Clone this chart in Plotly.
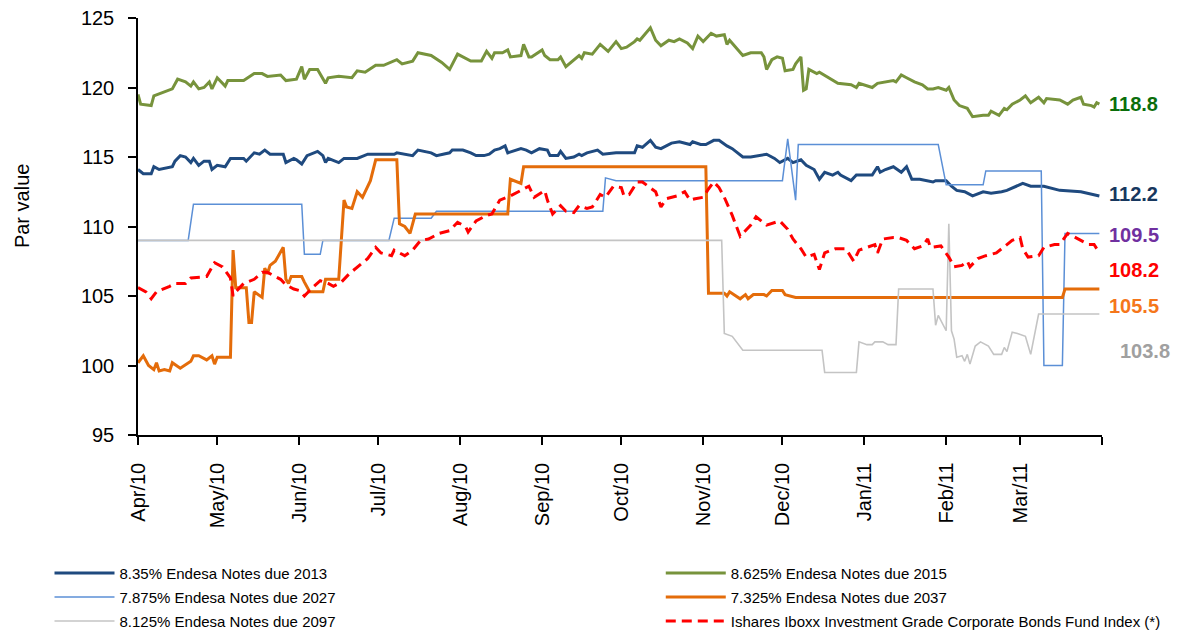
import plotly.graph_objects as go

# ---------------- data ----------------
month_ticks = ["2010-04-01", "2010-05-01", "2010-06-01", "2010-07-01", "2010-08-01", "2010-09-01",
               "2010-10-01", "2010-11-01", "2010-12-01", "2011-01-01", "2011-02-01", "2011-03-01",
               "2011-04-01"]
month_labels = ["Apr/10", "May/10", "Jun/10", "Jul/10", "Aug/10", "Sep/10", "Oct/10", "Nov/10",
                "Dec/10", "Jan/11", "Feb/11", "Mar/11", ""]

names = ["8.35% Endesa Notes due 2013", "8.625% Endesa Notes due 2015",
         "7.875% Endesa Notes due 2027", "7.325% Endesa Notes due 2037",
         "8.125% Endesa Notes due 2097",
         "Ishares Iboxx Investment Grade Corporate Bonds Fund Index (*)"]
end_labels = ["112.2", "118.8", "109.5", "105.5", "103.8", "108.2"]
end_label_values = [112.2, 118.8, 109.5, 105.5, 103.8, 108.2]

dates_2013 = ["2010-04-01", "2010-04-03", "2010-04-06", "2010-04-07", "2010-04-09", "2010-04-14", "2010-04-15", "2010-04-17", "2010-04-19", "2010-04-21",
              "2010-04-22", "2010-04-24", "2010-04-26", "2010-04-28", "2010-04-29", "2010-05-01", "2010-05-04", "2010-05-06", "2010-05-11", "2010-05-12",
              "2010-05-15", "2010-05-17", "2010-05-19", "2010-05-21", "2010-05-26", "2010-05-27", "2010-05-30", "2010-05-31", "2010-06-02", "2010-06-04",
              "2010-06-08", "2010-06-10", "2010-06-11", "2010-06-12", "2010-06-16", "2010-06-18", "2010-06-23", "2010-06-27", "2010-07-07", "2010-07-08",
              "2010-07-14", "2010-07-16", "2010-07-21", "2010-07-23", "2010-07-28", "2010-07-29", "2010-08-02", "2010-08-05", "2010-08-07", "2010-08-10",
              "2010-08-12", "2010-08-14", "2010-08-16", "2010-08-18", "2010-08-19", "2010-08-24", "2010-08-26", "2010-08-28", "2010-08-31", "2010-09-03",
              "2010-09-04", "2010-09-07", "2010-09-08", "2010-09-10", "2010-09-13", "2010-09-15", "2010-09-16", "2010-09-18", "2010-09-22", "2010-09-24",
              "2010-09-29", "2010-10-01", "2010-10-06", "2010-10-07", "2010-10-09", "2010-10-12", "2010-10-14", "2010-10-16", "2010-10-20", "2010-10-23",
              "2010-10-27", "2010-10-28", "2010-10-31", "2010-11-02", "2010-11-05", "2010-11-07", "2010-11-10", "2010-11-12", "2010-11-16", "2010-11-19",
              "2010-11-23", "2010-11-25", "2010-11-28", "2010-11-30", "2010-12-03", "2010-12-05", "2010-12-08", "2010-12-10", "2010-12-13", "2010-12-15",
              "2010-12-17", "2010-12-20", "2010-12-22", "2010-12-23", "2010-12-27", "2010-12-29", "2011-01-04", "2011-01-06", "2011-01-07", "2011-01-09",
              "2011-01-12", "2011-01-15", "2011-01-17", "2011-01-19", "2011-01-22", "2011-01-25", "2011-01-27", "2011-01-28", "2011-02-01", "2011-02-03",
              "2011-02-05", "2011-02-08", "2011-02-11", "2011-02-15", "2011-02-18", "2011-02-22", "2011-02-24", "2011-03-02", "2011-03-05", "2011-03-10",
              "2011-03-16", "2011-03-24", "2011-03-31"]
values_2013 = [114.1, 113.8, 113.8, 114.3, 114.1, 114.3, 114.7, 115.1, 115.0, 114.6,
               114.9, 114.4, 114.7, 114.7, 114.1, 114.4, 114.3, 114.9, 114.9, 114.7,
               115.3, 115.2, 115.5, 115.2, 115.2, 114.6, 114.9, 114.8, 114.5, 115.1,
               115.4, 115.1, 114.6, 114.9, 114.6, 114.9, 114.9, 115.2, 115.2, 115.3,
               115.1, 115.5, 115.3, 115.1, 115.3, 115.5, 115.5, 115.3, 115.1, 115.1,
               115.2, 115.5, 115.6, 115.8, 115.3, 115.6, 115.5, 115.3, 115.6, 115.5,
               115.1, 115.1, 115.4, 114.9, 115.0, 115.2, 115.1, 115.3, 115.5, 115.2,
               115.3, 115.3, 115.3, 115.8, 115.7, 116.2, 115.7, 115.6, 116.0, 116.1,
               115.9, 116.1, 115.9, 115.9, 116.2, 116.2, 115.8, 115.6, 115.0, 115.0,
               115.1, 115.2, 114.9, 114.6, 114.9, 114.6, 114.8, 114.4, 114.1, 113.4,
               113.9, 113.7, 113.9, 113.7, 113.3, 113.7, 113.7, 114.3, 113.9, 114.1,
               114.3, 113.9, 114.3, 113.4, 113.4, 113.3, 113.2, 113.3, 113.3, 112.9,
               112.6, 112.5, 112.2, 112.5, 112.4, 112.5, 112.6, 113.1, 112.9, 112.9,
               112.6, 112.5, 112.2]

dates_2015 = ["2010-04-01", "2010-04-02", "2010-04-06", "2010-04-07", "2010-04-14", "2010-04-16", "2010-04-19", "2010-04-21", "2010-04-22", "2010-04-24",
              "2010-04-26", "2010-04-28", "2010-04-29", "2010-05-01", "2010-05-04", "2010-05-05", "2010-05-11", "2010-05-15", "2010-05-18", "2010-05-20",
              "2010-05-25", "2010-05-27", "2010-05-31", "2010-06-02", "2010-06-03", "2010-06-05", "2010-06-08", "2010-06-11", "2010-06-12", "2010-06-16",
              "2010-06-21", "2010-06-23", "2010-06-26", "2010-06-30", "2010-07-03", "2010-07-08", "2010-07-10", "2010-07-14", "2010-07-16", "2010-07-21",
              "2010-07-25", "2010-07-28", "2010-07-31", "2010-08-05", "2010-08-09", "2010-08-11", "2010-08-13", "2010-08-14", "2010-08-17", "2010-08-19",
              "2010-08-20", "2010-08-24", "2010-08-25", "2010-08-27", "2010-08-28", "2010-09-01", "2010-09-02", "2010-09-04", "2010-09-07", "2010-09-08",
              "2010-09-10", "2010-09-15", "2010-09-16", "2010-09-17", "2010-09-20", "2010-09-23", "2010-09-26", "2010-09-29", "2010-10-01", "2010-10-03",
              "2010-10-06", "2010-10-07", "2010-10-08", "2010-10-12", "2010-10-14", "2010-10-16", "2010-10-19", "2010-10-21", "2010-10-23", "2010-10-26",
              "2010-10-28", "2010-10-30", "2010-11-01", "2010-11-04", "2010-11-06", "2010-11-09", "2010-11-10", "2010-11-11", "2010-11-16", "2010-11-19",
              "2010-11-23", "2010-11-24", "2010-11-25", "2010-11-27", "2010-11-29", "2010-12-01", "2010-12-02", "2010-12-05", "2010-12-06", "2010-12-08",
              "2010-12-09", "2010-12-10", "2010-12-11", "2010-12-14", "2010-12-15", "2010-12-20", "2010-12-22", "2010-12-27", "2010-12-29", "2010-12-30",
              "2011-01-02", "2011-01-04", "2011-01-06", "2011-01-10", "2011-01-12", "2011-01-13", "2011-01-15", "2011-01-17", "2011-01-20", "2011-01-23",
              "2011-01-25", "2011-01-27", "2011-01-29", "2011-02-01", "2011-02-02", "2011-02-04", "2011-02-06", "2011-02-09", "2011-02-11", "2011-02-15",
              "2011-02-17", "2011-02-18", "2011-02-20", "2011-02-21", "2011-02-23", "2011-02-24", "2011-02-26", "2011-03-01", "2011-03-03", "2011-03-05",
              "2011-03-08", "2011-03-10", "2011-03-11", "2011-03-16", "2011-03-19", "2011-03-21", "2011-03-24", "2011-03-25", "2011-03-28", "2011-03-29",
              "2011-03-30", "2011-03-31"]
values_2015 = [119.5, 118.8, 118.7, 119.4, 119.9, 120.6, 120.4, 120.1, 120.4, 119.9,
               120.0, 120.4, 119.9, 120.7, 120.1, 120.5, 120.5, 121.0, 121.0, 120.8,
               120.9, 120.5, 120.6, 121.5, 120.6, 121.3, 121.3, 120.3, 120.7, 120.8,
               120.7, 121.2, 121.1, 121.6, 121.6, 122.0, 121.7, 121.9, 122.5, 122.3,
               121.8, 121.3, 122.4, 121.9, 121.9, 122.6, 122.1, 122.5, 122.5, 122.7,
               122.2, 122.3, 123.1, 122.2, 122.2, 122.7, 122.3, 122.0, 122.0, 122.2,
               121.5, 122.3, 122.1, 122.5, 122.4, 123.1, 122.6, 123.3, 122.8, 122.9,
               123.3, 123.5, 123.4, 124.3, 123.4, 123.0, 123.4, 123.3, 123.5, 123.2,
               122.8, 123.7, 123.3, 123.9, 123.7, 123.8, 123.1, 123.4, 122.3, 122.5,
               122.5, 122.2, 121.3, 122.0, 122.2, 122.1, 121.2, 121.3, 121.7, 122.2,
               119.8, 119.9, 121.3, 121.0, 121.1, 120.5, 120.3, 120.2, 120.0, 120.3,
               120.1, 120.0, 120.3, 120.4, 120.5, 120.4, 120.9, 120.7, 120.4, 120.2,
               119.9, 119.9, 120.0, 119.8, 120.0, 119.1, 118.7, 118.5, 117.9, 118.0,
               118.0, 118.3, 118.1, 118.0, 118.5, 118.4, 118.8, 119.1, 119.4, 118.9,
               119.3, 118.9, 119.2, 119.1, 118.8, 119.1, 119.3, 118.8, 118.7, 118.6,
               118.9, 118.8]

dates_2027 = ["2010-04-01", "2010-04-20", "2010-04-22", "2010-06-02", "2010-06-03", "2010-06-09", "2010-06-10",
              "2010-07-05", "2010-07-07", "2010-07-21", "2010-07-23", "2010-09-24", "2010-09-25", "2010-09-29",
              "2010-12-01", "2010-12-03", "2010-12-06", "2010-12-07", "2011-01-29", "2011-02-01", "2011-02-15",
              "2011-02-16", "2011-03-09", "2011-03-10", "2011-03-17", "2011-03-18", "2011-03-31"]
values_2027 = [109.0, 109.0, 111.6, 111.6, 108.0, 108.0, 109.0,
               109.0, 110.6, 110.6, 111.1, 111.1, 113.5, 113.3,
               113.3, 116.3, 111.9, 115.9, 115.9, 113.0, 113.0,
               114.0, 114.0, 100.0, 100.0, 109.5, 109.5]

dates_2037 = ["2010-04-01", "2010-04-03", "2010-04-05", "2010-04-07", "2010-04-08", "2010-04-09", "2010-04-11", "2010-04-13", "2010-04-14", "2010-04-17",
              "2010-04-21", "2010-04-22", "2010-04-24", "2010-04-27", "2010-04-29", "2010-04-30", "2010-05-01", "2010-05-06", "2010-05-07", "2010-05-08",
              "2010-05-12", "2010-05-13", "2010-05-14", "2010-05-15", "2010-05-18", "2010-05-19", "2010-05-20", "2010-05-21", "2010-05-23", "2010-05-26",
              "2010-05-27", "2010-05-28", "2010-05-29", "2010-06-02", "2010-06-03", "2010-06-05", "2010-06-10", "2010-06-11", "2010-06-16", "2010-06-18",
              "2010-06-19", "2010-06-21", "2010-06-23", "2010-06-25", "2010-06-28", "2010-06-30", "2010-07-08", "2010-07-09", "2010-07-11", "2010-07-13",
              "2010-07-15", "2010-08-19", "2010-08-20", "2010-08-24", "2010-08-25", "2010-11-02", "2010-11-03", "2010-11-09", "2010-11-10", "2010-11-11",
              "2010-11-15", "2010-11-17", "2010-11-18", "2010-11-20", "2010-11-24", "2010-11-25", "2010-11-27", "2010-12-01", "2010-12-02", "2010-12-06",
              "2011-03-17", "2011-03-18", "2011-03-31"]
values_2037 = [100.2, 100.7, 100.0, 99.7, 100.2, 99.6, 99.7, 99.6, 100.2, 99.8,
               100.3, 100.7, 100.7, 100.4, 100.7, 100.1, 100.6, 100.6, 108.3, 105.6,
               105.6, 103.1, 103.1, 105.3, 104.9, 107.0, 106.6, 107.2, 107.5, 108.5,
               106.2, 105.9, 106.4, 106.4, 106.0, 105.3, 105.3, 106.2, 106.2, 111.9,
               111.4, 111.3, 112.5, 112.1, 113.3, 114.8, 114.8, 110.2, 110.0, 109.5,
               110.9, 110.9, 113.4, 113.1, 114.3, 114.3, 105.2, 105.2, 105.0, 105.3,
               104.8, 105.1, 104.8, 105.1, 105.1, 105.0, 105.4, 105.4, 105.1, 104.9,
               104.9, 105.5, 105.5]

dates_2097 = ["2010-04-01", "2010-11-08", "2010-11-09", "2010-11-12", "2010-11-16", "2010-12-16", "2010-12-17", "2010-12-29", "2010-12-30", "2011-01-02",
              "2011-01-04", "2011-01-05", "2011-01-08", "2011-01-10", "2011-01-13", "2011-01-14", "2011-01-27", "2011-01-28", "2011-01-29", "2011-02-01",
              "2011-02-02", "2011-02-03", "2011-02-04", "2011-02-05", "2011-02-07", "2011-02-08", "2011-02-09", "2011-02-10", "2011-02-12", "2011-02-14",
              "2011-02-17", "2011-02-19", "2011-02-22", "2011-02-23", "2011-02-24", "2011-02-26", "2011-02-28", "2011-03-03", "2011-03-05", "2011-03-08",
              "2011-03-31"]
values_2097 = [109.0, 109.0, 102.3, 102.1, 101.1, 101.1, 99.5, 99.5, 101.7, 101.5,
               101.5, 101.7, 101.7, 101.5, 101.5, 105.5, 105.5, 102.9, 103.6, 102.5,
               110.2, 102.5, 101.9, 100.6, 100.7, 100.3, 100.8, 100.1, 101.4, 101.7,
               101.4, 100.8, 100.8, 101.3, 101.0, 102.4, 102.3, 102.1, 100.8, 103.7,
               103.7]

dates_index = ["2010-04-01", "2010-04-04", "2010-04-06", "2010-04-08", "2010-04-13", "2010-04-15", "2010-04-19", "2010-04-21", "2010-04-27", "2010-04-30",
               "2010-05-03", "2010-05-06", "2010-05-07", "2010-05-08", "2010-05-11", "2010-05-15", "2010-05-18", "2010-05-20", "2010-05-25", "2010-05-27",
               "2010-05-30", "2010-06-01", "2010-06-03", "2010-06-06", "2010-06-09", "2010-06-12", "2010-06-14", "2010-06-17", "2010-06-20", "2010-06-23",
               "2010-06-27", "2010-06-30", "2010-07-02", "2010-07-06", "2010-07-07", "2010-07-11", "2010-07-14", "2010-07-17", "2010-07-20", "2010-07-24",
               "2010-07-28", "2010-07-31", "2010-08-03", "2010-08-04", "2010-08-07", "2010-08-11", "2010-08-13", "2010-08-16", "2010-08-20", "2010-08-24",
               "2010-08-27", "2010-08-29", "2010-09-02", "2010-09-03", "2010-09-05", "2010-09-08", "2010-09-10", "2010-09-13", "2010-09-15", "2010-09-18",
               "2010-09-20", "2010-09-23", "2010-09-25", "2010-09-28", "2010-10-01", "2010-10-02", "2010-10-04", "2010-10-07", "2010-10-09", "2010-10-14",
               "2010-10-16", "2010-10-18", "2010-10-22", "2010-10-25", "2010-10-27", "2010-10-29", "2010-11-01", "2010-11-03", "2010-11-05", "2010-11-07",
               "2010-11-09", "2010-11-12", "2010-11-15", "2010-11-19", "2010-11-21", "2010-11-25", "2010-11-30", "2010-12-03", "2010-12-05", "2010-12-08",
               "2010-12-10", "2010-12-13", "2010-12-15", "2010-12-17", "2010-12-21", "2010-12-25", "2010-12-28", "2010-12-30", "2011-01-02", "2011-01-05",
               "2011-01-06", "2011-01-08", "2011-01-12", "2011-01-14", "2011-01-17", "2011-01-20", "2011-01-23", "2011-01-25", "2011-01-26", "2011-01-30",
               "2011-02-02", "2011-02-04", "2011-02-07", "2011-02-09", "2011-02-10", "2011-02-13", "2011-02-16", "2011-02-20", "2011-02-22", "2011-02-26",
               "2011-03-01", "2011-03-02", "2011-03-04", "2011-03-08", "2011-03-10", "2011-03-14", "2011-03-16", "2011-03-19", "2011-03-21", "2011-03-23",
               "2011-03-27", "2011-03-29", "2011-03-31"]
values_index = [105.6, 105.3, 104.8, 105.3, 105.7, 105.9, 105.9, 106.3, 106.4, 107.4,
                107.1, 106.3, 105.0, 105.3, 105.9, 106.2, 106.7, 106.7, 106.2, 105.8,
                105.5, 105.4, 105.0, 105.6, 106.1, 105.9, 105.7, 106.0, 106.6, 107.1,
                107.7, 108.5, 108.1, 107.9, 108.3, 107.9, 108.3, 109.0, 109.1, 109.5,
                109.7, 110.3, 110.0, 109.6, 110.4, 110.8, 110.9, 111.9, 112.2, 112.6,
                112.9, 112.1, 112.6, 111.9, 110.9, 111.5, 111.1, 111.0, 111.5, 111.3,
                111.4, 112.3, 112.1, 112.9, 112.8, 112.2, 112.3, 113.2, 113.2, 112.5,
                111.4, 112.0, 112.2, 112.5, 111.9, 112.0, 112.1, 112.7, 113.2, 112.8,
                112.1, 110.8, 109.3, 110.1, 110.7, 110.1, 110.4, 109.8, 109.1, 108.4,
                107.8, 108.0, 106.9, 108.1, 108.4, 108.4, 107.5, 108.3, 108.5, 108.7,
                108.1, 109.1, 109.2, 109.2, 109.0, 108.4, 108.6, 109.1, 108.5, 108.6,
                107.8, 107.1, 107.2, 107.5, 107.1, 107.7, 107.9, 108.1, 108.4, 109.0,
                109.2, 108.4, 107.8, 107.9, 108.5, 108.7, 108.7, 109.5, 109.3, 109.1,
                108.7, 108.7, 108.1]

# ---------------- styling ----------------
series = [
    (dates_2013, values_2013, "#1F4A7F", 3.0, "solid", "legend"),
    (dates_2015, values_2015, "#77933C", 3.0, "solid", "legend2"),
    (dates_2027, values_2027, "#5B8FD6", 1.5, "solid", "legend"),
    (dates_2037, values_2037, "#E46C0A", 3.0, "solid", "legend2"),
    (dates_2097, values_2097, "#C4C4C4", 1.6, "solid", "legend"),
    (dates_index, values_index, "#FF0000", 3.0, "10px,6px", "legend2"),
]
label_colors = ["#17375E", "#0B6E0B", "#7030A0", "#F5761A", "#A0A0A0", "#FF0000"]
label_yshift = [2, 0, -2, -17, -38, -18]
label_xshift = [5, 5, 5, 5, 16, 5]

FONT = "Liberation Sans, Arial, sans-serif"

fig = go.Figure()
for name, (dx, vy, col, w, dash, leg) in zip(names, series):
    fig.add_trace(go.Scatter(x=dx, y=vy, mode="lines", name=name, legend=leg, legendgroup=name,
                             line=dict(color=col, width=w, dash=dash)))

for txt, val, col, ys, xs in zip(end_labels, end_label_values, label_colors, label_yshift, label_xshift):
    fig.add_annotation(x=1, xref="paper", y=val, yref="y", text="<b>" + txt + "</b>", showarrow=False,
                       xanchor="left", yanchor="middle", xshift=xs, yshift=ys,
                       font=dict(family=FONT, size=20, color=col))

fig.add_annotation(x=-0.1203, xref="paper", y=0.549, yref="paper", text="Par value",
                   showarrow=False, textangle=-90, xanchor="center", yanchor="middle",
                   font=dict(family=FONT, size=20, color="#000000"))

legend_common = dict(orientation="v", xanchor="left", y=-0.2918, yanchor="top",
                     font=dict(family=FONT, size=15, color="#000000"),
                     itemwidth=60, tracegroupgap=1.5, bgcolor="rgba(0,0,0,0)")

fig.update_layout(
    width=1172, height=626,
    margin=dict(l=130, r=78, t=10, b=199, autoexpand=False),
    paper_bgcolor="white", plot_bgcolor="white",
    font=dict(family=FONT, color="#000000"),
    showlegend=True,
    legend=dict(x=-0.0918, **legend_common),
    legend2=dict(x=0.5423, **legend_common),
    xaxis=dict(type="date", range=["2010-04-01", "2011-04-01"],
               tickmode="array", tickvals=month_ticks, ticktext=month_labels,
               tickangle=-90, ticks="outside", ticklen=8, tickwidth=1.5, tickcolor="#000000",
               showline=True, linecolor="#000000", linewidth=1.5, showgrid=False, zeroline=False,
               tickfont=dict(family=FONT, size=20, color="#000000"), ticklabelstandoff=10,
               ticklabeloverflow="allow", automargin=False),
    yaxis=dict(range=[95, 125], tick0=95, dtick=5, ticks="outside", ticklen=8, tickwidth=1.5,
               tickcolor="#000000", showline=True, linecolor="#000000", linewidth=1.5,
               showgrid=False, zeroline=False,
               tickfont=dict(family=FONT, size=20, color="#000000"), ticklabelstandoff=10,
               ticklabeloverflow="allow", automargin=False),
)

fig.write_html("out.html")
